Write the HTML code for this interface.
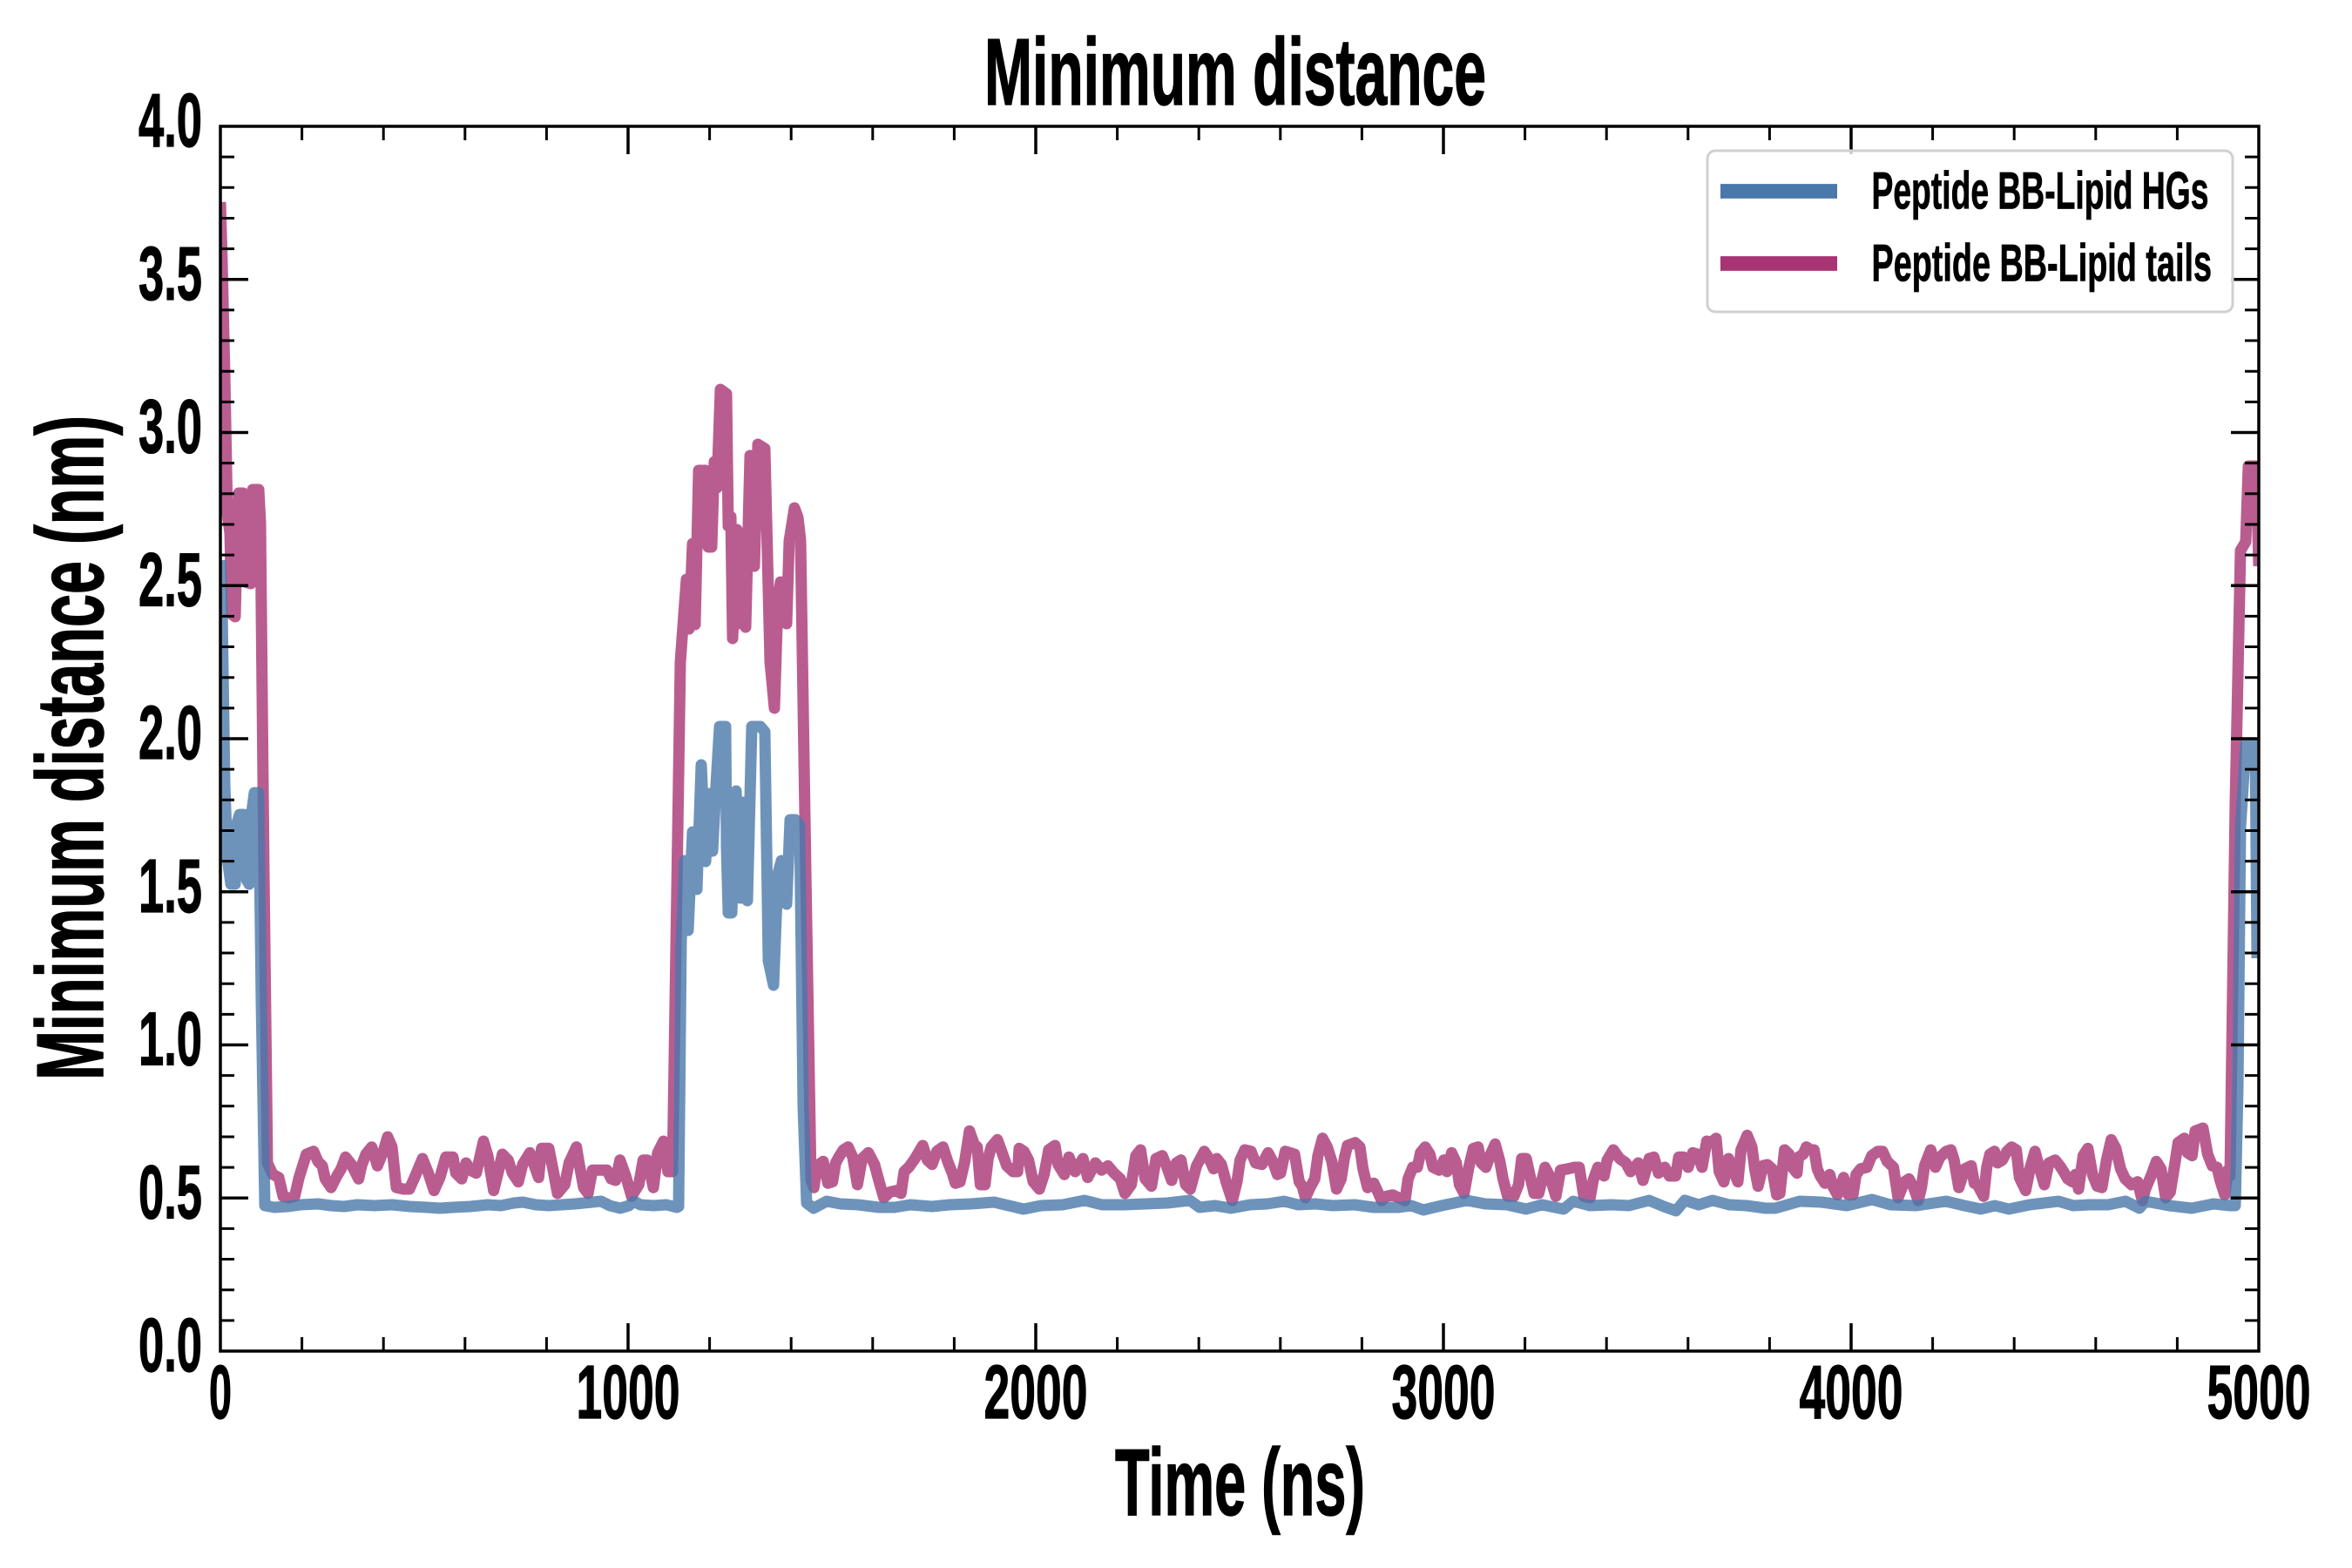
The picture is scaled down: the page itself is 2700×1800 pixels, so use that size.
<!DOCTYPE html>
<html>
<head>
<meta charset="utf-8">
<style>
html,body{margin:0;padding:0;background:#fff;}
svg{display:block;}
text{font-family:"Liberation Sans",Arial,sans-serif;font-weight:bold;fill:#000;}
</style>
</head>
<body>
<svg width="2700" height="1800" viewBox="0 0 2700 1800" xmlns="http://www.w3.org/2000/svg">
<rect x="0" y="0" width="2700" height="1800" fill="#fff"/>
<defs>
<clipPath id="ax"><rect x="253" y="145" width="2340" height="1406"/></clipPath>
</defs>

<g clip-path="url(#ax)" fill="none" stroke-linejoin="round" stroke-width="13">
<polyline stroke="#a83474" stroke-opacity="0.8" points="253,232 255,300 258,430 261,590 264,612 266,705 270,708 272,625 274,566 279,566 281,668 288,670 290,562 297,562 299,600 303,1000 307,1335 313,1348 320,1351.7 325,1373.3 331.7,1375 338.3,1373.3 343.3,1351.7 351.7,1325 360,1321.7 365,1333.3 370,1338.3 373.3,1353.3 380,1363.3 386.7,1350 391.7,1341.7 396.7,1328.3 403.3,1336.7 411.7,1353.3 415,1338.3 420,1325 426.7,1316.7 433.3,1338.3 440,1321.7 445,1305 450,1316.7 455,1363.3 463.3,1365 470,1365 476.7,1350 485,1330 491.7,1346.7 498.3,1366.7 505,1351.7 511.7,1328.3 520,1328.3 523.3,1346.7 530,1353.3 535,1335 540,1343.3 546.7,1346.7 555,1310 560,1326.7 566.7,1366.7 571.7,1346.7 576.7,1325 583.3,1331.7 588.3,1346.7 595,1356.7 600,1336.7 608.3,1323.3 611.7,1333.3 618.3,1351.7 621.7,1318.3 630,1318.3 635,1343.3 640,1370 648.3,1360 653.3,1335 661.7,1316.7 665,1336.7 670,1363.3 675,1370 680,1343.3 688.3,1343.3 696.7,1343.3 701.7,1353.3 706.7,1355 711.7,1331.7 718.3,1350 725,1373.3 733.3,1360 738.3,1331.7 743.3,1331.7 750,1363.3 755,1323.3 761.7,1310 766.7,1345 772,1345 781,760 785,705 788,665 791,722 795,624 798,717 802,540 810,540 813,628 817,628 820,530 823,560 827,447 834,452 836,604 839,593 841,733 846,608 848,716 851,625 856,720 861,523 866,650 870,510 878,515 884,760 889,813 893,688 896,668 903,716 906,621 912,583 916,594 919,620 925,1000 931,1355 934.3,1363.3 937.9,1338.3 945,1333.3 950.4,1358.3 955.7,1356.7 959.3,1335 962.9,1328.3 968.2,1320 973.6,1316.7 978.9,1328.3 984.3,1360 989.6,1330 996.8,1323.3 1003.9,1336.7 1009.3,1356.7 1014.6,1375 1021.8,1368.3 1028.9,1366.7 1034.3,1370 1037.9,1345 1043.2,1340 1050.4,1330 1059.3,1315 1064.6,1331.7 1070,1336.7 1075.4,1321.7 1082.5,1316.7 1087.9,1333.3 1093.2,1346.7 1096.8,1358.3 1102.1,1356.7 1107.5,1333.3 1112.9,1298.3 1118.2,1313.3 1121.8,1316.7 1125.4,1360 1130.7,1360 1134.3,1330 1137.9,1316.7 1145,1308.3 1150.4,1323.3 1155.7,1338.3 1162.9,1345 1168.2,1345 1170,1318.3 1175.4,1321.7 1180.7,1331.7 1186.1,1356.7 1193.2,1365 1198.6,1348.3 1203.9,1320 1211.1,1315 1214.6,1336.7 1221.8,1348.3 1227.1,1328.3 1234.3,1345 1243.2,1330 1248.6,1351.7 1257.5,1335 1264.6,1343.3 1271.8,1338.3 1278.9,1346.7 1286.1,1353.3 1291.4,1370 1298.6,1360 1303.9,1326.7 1309.3,1320 1314.6,1353.3 1321.8,1361.7 1327.1,1330 1334.3,1326.7 1339.6,1340 1345,1355 1350.4,1335 1355.7,1331.7 1361.1,1360 1366.4,1365 1373.6,1338.3 1382.5,1321.7 1387.9,1330 1393.2,1341.7 1396.8,1330 1402.1,1336.7 1407.5,1356.7 1414.6,1378.3 1420,1356.7 1423.6,1331.7 1428.9,1320 1436.1,1321.7 1441.4,1335 1448.6,1336.7 1455.7,1323.3 1461.1,1333.3 1466.4,1348.3 1470,1346.7 1475.4,1321.7 1486.1,1325 1491.4,1356.7 1495,1361.7 1498.6,1375 1503.9,1363.3 1509.3,1353.3 1512.9,1326.7 1518.2,1306.7 1523.6,1316.7 1528.9,1333.3 1534.3,1365 1539.6,1353.3 1543.2,1330 1546.8,1315 1555.7,1311.7 1561.1,1316.7 1564.6,1341.7 1570,1363.3 1577.1,1358.3 1582.5,1370 1586.1,1378.3 1591.4,1373.3 1598.6,1371.7 1605.7,1375 1612.9,1378.3 1616.4,1353.3 1621.8,1340 1627.1,1340 1630.7,1323.3 1636.1,1316.7 1641.4,1325 1645,1340 1652.1,1343.3 1657.5,1331.7 1661.1,1345 1666.4,1323.3 1671.8,1335 1675.4,1360 1680.7,1370 1686.1,1340 1691.4,1318.3 1696.8,1316.7 1700.4,1335 1705.7,1340 1711.1,1325 1716.4,1313.3 1721.8,1333.3 1725.4,1353.3 1730.7,1373.3 1737.9,1373.3 1743.2,1360 1746.8,1330 1752.1,1330 1755.7,1346.7 1761.1,1370 1766.4,1370 1773.6,1340 1778.9,1350 1786.1,1373.3 1791.4,1343.3 1800.4,1341.7 1807.5,1340 1812.9,1340 1818.2,1373.3 1825.4,1375 1828.9,1355 1834.3,1340 1841.4,1350 1845,1331.7 1852.1,1320 1859.3,1330 1866.4,1335 1871.8,1345 1880.7,1335 1886.1,1355 1893.2,1330 1898.6,1328.3 1903.9,1346.7 1911.1,1340 1916.4,1350 1923.6,1350 1927.1,1328.3 1932.5,1328.3 1937.9,1340 1943.2,1323.3 1948.6,1325 1953.9,1340 1959.3,1310 1964.6,1311.7 1970,1306.7 1973.6,1345 1978.9,1356.7 1984.3,1330 1989.6,1343.3 1995,1356.7 1998.6,1320 2005.7,1303.3 2011.1,1316.7 2014.6,1343.3 2018.2,1361.7 2024,1338 2029,1337 2034.3,1341.7 2039.6,1371.7 2043.2,1370 2048.6,1320 2053.9,1325 2057.5,1340 2062.9,1346.7 2064.6,1328.3 2070,1325 2073.6,1316.7 2078.9,1320 2082.5,1320 2086.1,1341.7 2089.6,1350 2095,1358.3 2100.4,1348.3 2103.9,1361.7 2109.3,1371.7 2116.4,1351.7 2121.8,1371.7 2127.1,1371.7 2130.7,1348.3 2136.1,1341.7 2143.2,1340 2148.6,1326.7 2155.7,1321.7 2161.1,1321.7 2166.4,1333.3 2173.6,1340 2178.9,1375 2186.1,1356.7 2191.4,1353.3 2196.8,1363.3 2202.1,1378.3 2205.7,1363.3 2209.3,1338.3 2216.4,1320 2221.8,1340 2227.1,1328.3 2234.3,1321.7 2239.6,1320 2243.2,1331.7 2248.6,1363.3 2255.7,1341.7 2262.9,1338.3 2266.4,1358.3 2270,1360 2277.1,1373.3 2280.7,1340 2284.3,1325 2289.6,1321.7 2293.2,1335 2298.6,1331.7 2303.9,1321.7 2309.3,1316.7 2314.6,1320 2318.2,1351.7 2325.4,1366.7 2330.7,1340 2336.1,1321.7 2341.4,1341.7 2346.8,1360 2352.1,1335 2359.3,1331.7 2364.6,1338.3 2370,1346.7 2373.6,1353.3 2378.9,1356.7 2382.5,1348.3 2386.1,1365 2391.4,1326.7 2396.8,1318.3 2402.1,1348.3 2407.5,1361.7 2412.9,1363.3 2418.2,1331.7 2423.6,1308.3 2428.9,1318.3 2434.3,1341.7 2439.6,1353.3 2446.8,1360 2453.9,1356.7 2459.3,1378.3 2462.9,1365 2470,1348.3 2475.4,1333.3 2480.7,1341.7 2486.1,1375 2491.4,1368.3 2496.8,1335 2500.4,1311.7 2507.5,1306.7 2511.1,1323.3 2516.4,1326.7 2520,1298.3 2528.9,1295 2534.3,1325 2539.6,1338.3 2545,1340 2548.6,1355 2553.9,1371.7 2557.5,1343.3 2560,1350 2566,920 2572,632 2578,622 2581,535 2590,535 2593,650"/>
<polyline stroke="#4a78aa" stroke-opacity="0.8" points="253,643 255,700 258,900 261,985 265,1015 270,1015 272,945 275,935 280,935 283,1010 286,1015 288,940 292,910 297,910 300,1150 304,1384 315,1386 330,1385 345,1383 365,1382 380,1384 395,1385 410,1383 430,1384 450,1383 470,1385 490,1386 505,1387 520,1386 540,1385 560,1383 575,1384 590,1381 600,1380 615,1383 630,1384 645,1383 660,1382 680,1380 690,1379 700,1384 712,1387 722,1384 728,1379 735,1383 750,1384 765,1383 777,1386 779,1385 782,1080 786,988 790,1068 795,955 800,1021 805,878 810,989 815,911 818,977 822,901 826,834 833,834 834,973 836,1048 840,1048 845,908 850,1031 853,921 858,1034 863,834 873,834 878,840 882,1103 888,1131 893,1003 897,988 903,1038 907,941 913,941 918,947 922,1271 926,1381 934,1387 949,1379 965,1382 985,1383 1009,1386 1027,1386 1045,1383 1070,1385 1090,1383 1115,1382 1141,1380 1158,1384 1175,1388 1195,1384 1220,1383 1245,1378 1265,1383 1291,1383 1315,1382 1340,1381 1366,1378 1377,1386 1395,1384 1413,1387 1435,1383 1455,1382 1474,1379 1490,1383 1510,1382 1530,1384 1555,1383 1577,1386 1606,1386 1620,1384 1634,1389 1655,1384 1684,1378 1705,1382 1730,1383 1752,1388 1770,1383 1795,1388 1806,1379 1825,1384 1850,1383 1870,1384 1893,1378 1910,1385 1924,1390 1934,1378 1950,1383 1966,1378 1985,1383 2005,1384 2027,1387 2038,1387 2066,1379 2091,1380 2120,1384 2149,1377 2170,1383 2200,1384 2234,1379 2255,1384 2274,1388 2290,1384 2306,1388 2330,1383 2363,1379 2380,1384 2399,1383 2420,1383 2440,1379 2456,1387 2463,1379 2490,1384 2516,1387 2541,1382 2560,1384 2566,1384 2569,1250 2572,950 2578,855 2589,855 2591,1100"/>
</g>

<!-- spines -->
<rect x="253" y="145" width="2340" height="1406" fill="none" stroke="#000" stroke-width="3.5"/>

<!-- minor ticks -->
<path fill="none" stroke="#000" stroke-width="3" d="
M346.6 1551v-16M440.2 1551v-16M533.8 1551v-16M627.4 1551v-16M814.6 1551v-16M908.2 1551v-16M1001.8 1551v-16M1095.4 1551v-16M1282.6 1551v-16M1376.2 1551v-16M1469.8 1551v-16M1563.4 1551v-16M1750.6 1551v-16M1844.2 1551v-16M1937.8 1551v-16M2031.4 1551v-16M2218.6 1551v-16M2312.2 1551v-16M2405.8 1551v-16M2499.4 1551v-16
M346.6 145v16M440.2 145v16M533.8 145v16M627.4 145v16M814.6 145v16M908.2 145v16M1001.8 145v16M1095.4 145v16M1282.6 145v16M1376.2 145v16M1469.8 145v16M1563.4 145v16M1750.6 145v16M1844.2 145v16M1937.8 145v16M2031.4 145v16M2218.6 145v16M2312.2 145v16M2405.8 145v16M2499.4 145v16
M253 1515.85h16M253 1480.7h16M253 1445.55h16M253 1410.4h16M253 1340.1h16M253 1304.95h16M253 1269.8h16M253 1234.65h16M253 1164.35h16M253 1129.2h16M253 1094.05h16M253 1058.9h16M253 988.6h16M253 953.45h16M253 918.3h16M253 883.15h16M253 812.85h16M253 777.7h16M253 742.55h16M253 707.4h16M253 637.1h16M253 601.95h16M253 566.8h16M253 531.65h16M253 461.35h16M253 426.2h16M253 391.05h16M253 355.9h16M253 285.6h16M253 250.45h16M253 215.3h16M253 180.15h16
M2593 1515.85h-16M2593 1480.7h-16M2593 1445.55h-16M2593 1410.4h-16M2593 1340.1h-16M2593 1304.95h-16M2593 1269.8h-16M2593 1234.65h-16M2593 1164.35h-16M2593 1129.2h-16M2593 1094.05h-16M2593 1058.9h-16M2593 988.6h-16M2593 953.45h-16M2593 918.3h-16M2593 883.15h-16M2593 812.85h-16M2593 777.7h-16M2593 742.55h-16M2593 707.4h-16M2593 637.1h-16M2593 601.95h-16M2593 566.8h-16M2593 531.65h-16M2593 461.35h-16M2593 426.2h-16M2593 391.05h-16M2593 355.9h-16M2593 285.6h-16M2593 250.45h-16M2593 215.3h-16M2593 180.15h-16"/>
<!-- major ticks -->
<path fill="none" stroke="#000" stroke-width="3.5" d="
M721 1551v-32M1189 1551v-32M1657 1551v-32M2125 1551v-32
M721 145v32M1189 145v32M1657 145v32M2125 145v32
M253 1375.25h32M253 1199.5h32M253 1023.75h32M253 848h32M253 672.25h32M253 496.5h32M253 320.75h32
M2593 1375.25h-32M2593 1199.5h-32M2593 1023.75h-32M2593 848h-32M2593 672.25h-32M2593 496.5h-32M2593 320.75h-32"/>

<!-- y tick labels -->
<g font-size="87" text-anchor="end" stroke="#000" stroke-width="1.2">
<text x="232" y="1574" textLength="73" lengthAdjust="spacingAndGlyphs">0.0</text>
<text x="232" y="1398.25" textLength="73" lengthAdjust="spacingAndGlyphs">0.5</text>
<text x="232" y="1222.5" textLength="73" lengthAdjust="spacingAndGlyphs">1.0</text>
<text x="232" y="1046.75" textLength="73" lengthAdjust="spacingAndGlyphs">1.5</text>
<text x="232" y="871" textLength="73" lengthAdjust="spacingAndGlyphs">2.0</text>
<text x="232" y="695.25" textLength="73" lengthAdjust="spacingAndGlyphs">2.5</text>
<text x="232" y="519.5" textLength="73" lengthAdjust="spacingAndGlyphs">3.0</text>
<text x="232" y="343.75" textLength="73" lengthAdjust="spacingAndGlyphs">3.5</text>
<text x="232" y="168" textLength="73" lengthAdjust="spacingAndGlyphs">4.0</text>
</g>
<!-- x tick labels -->
<g font-size="87" stroke="#000" stroke-width="1.2">
<text x="240" y="1628" textLength="26" lengthAdjust="spacingAndGlyphs">0</text>
<text x="661.5" y="1628" textLength="119" lengthAdjust="spacingAndGlyphs">1000</text>
<text x="1129.5" y="1628" textLength="119" lengthAdjust="spacingAndGlyphs">2000</text>
<text x="1597.5" y="1628" textLength="119" lengthAdjust="spacingAndGlyphs">3000</text>
<text x="2065.5" y="1628" textLength="119" lengthAdjust="spacingAndGlyphs">4000</text>
<text x="2533.5" y="1628" textLength="119" lengthAdjust="spacingAndGlyphs">5000</text>
</g>

<!-- title and axis labels -->
<g font-size="109" stroke="#000" stroke-width="1.5">
<text x="1130" y="120" textLength="576" lengthAdjust="spacingAndGlyphs">Minimum distance</text>
<text x="1280" y="1739" textLength="287" lengthAdjust="spacingAndGlyphs">Time (ns)</text>
<text transform="translate(118,1240) rotate(-90)" x="0" y="0" textLength="763" lengthAdjust="spacingAndGlyphs">Minimum distance (nm)</text>
</g>

<!-- legend -->
<rect x="1960" y="173" width="603" height="185" rx="9" ry="9" fill="#fff" fill-opacity="0.8" stroke="#d0d0d0" stroke-width="3"/>
<line x1="1975" y1="219.5" x2="2109" y2="219.5" stroke="#4a78aa" stroke-width="16.7"/>
<line x1="1975" y1="302.5" x2="2109" y2="302.5" stroke="#a83474" stroke-width="16.7"/>
<g font-size="60" stroke="#000" stroke-width="0.8">
<text x="2148.5" y="239.3" textLength="387" lengthAdjust="spacingAndGlyphs">Peptide BB-Lipid HGs</text>
<text x="2148.5" y="322.7" textLength="390.5" lengthAdjust="spacingAndGlyphs">Peptide BB-Lipid tails</text>
</g>
</svg>
</body>
</html>
